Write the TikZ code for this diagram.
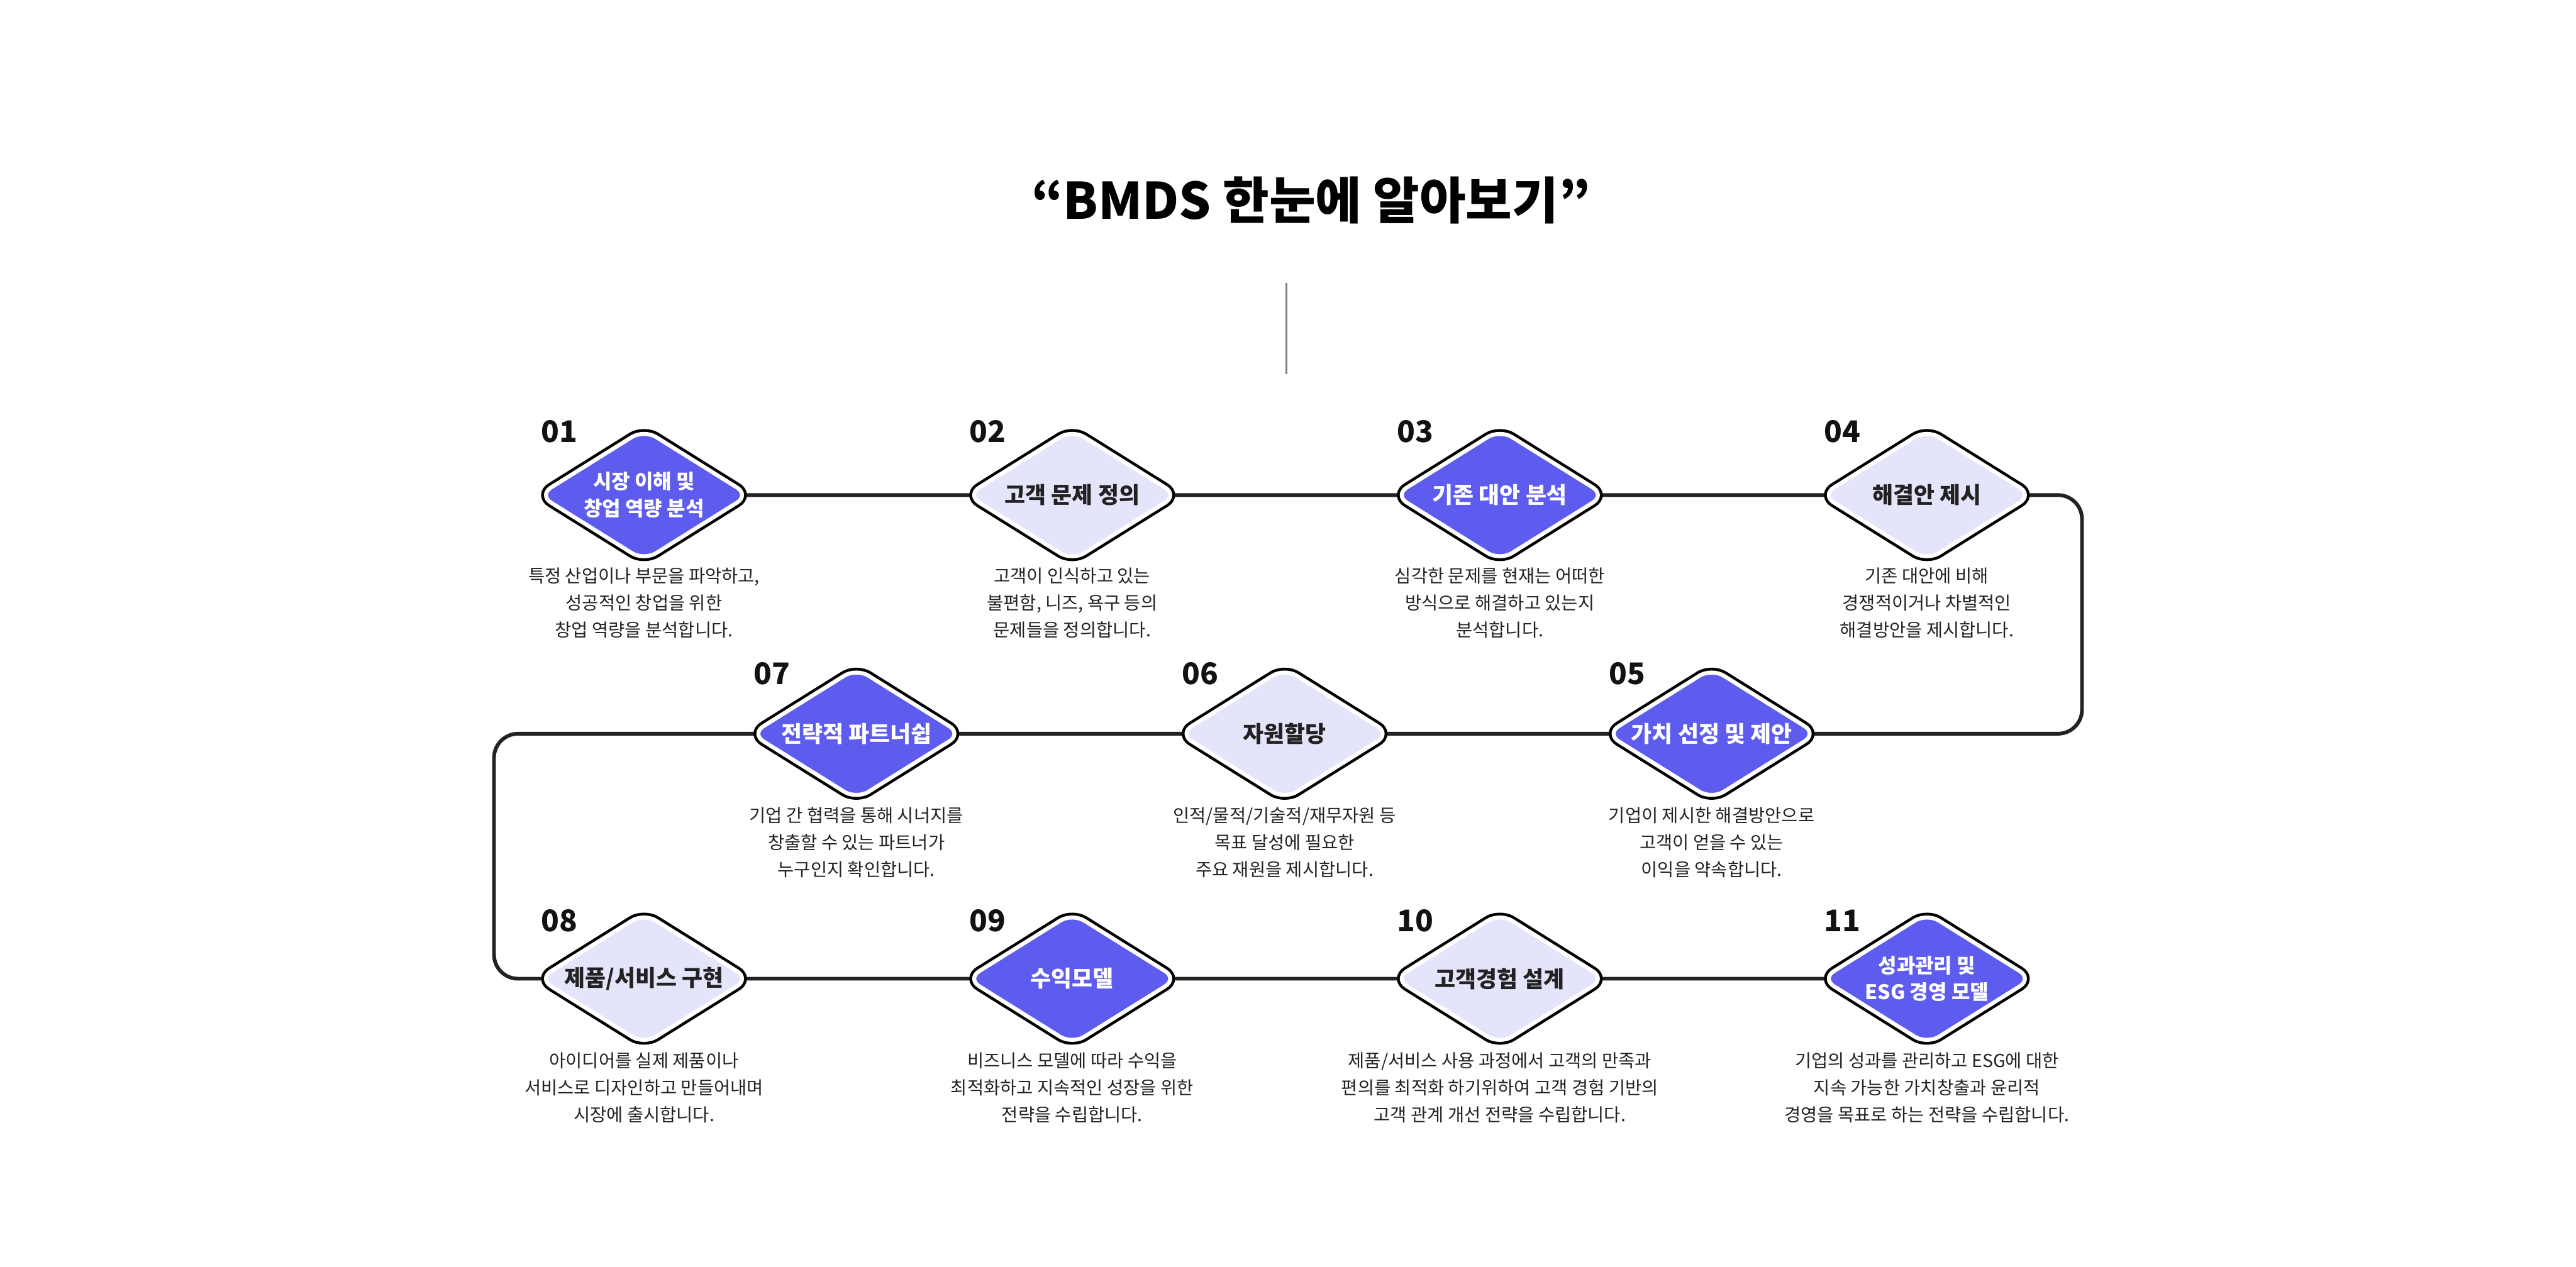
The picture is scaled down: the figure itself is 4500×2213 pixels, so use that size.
\documentclass[tikz,border=0pt]{standalone}
\usepackage{fontspec}
\setmainfont{Noto Sans CJK KR}
\usetikzlibrary{shapes.geometric,backgrounds}

\definecolor{bmdsblue}{RGB}{94,92,238}
\definecolor{bmdslight}{RGB}{228,228,250}
\definecolor{bmdsink}{RGB}{34,34,34}

\tikzset{
    flow diamond/.style={
      diamond,
      shape aspect=1.6,
      minimum width=3.7cm,
      minimum height=2.32cm,
      inner sep=0pt,
      rounded corners=0.25cm,
      draw=white,
      line width=0.07cm,
      preaction={draw=black, line width=0.17cm},
      align=center,
      font=\fontsize{11.2pt}{13.4pt}\selectfont\bfseries
    },
    flow dark/.style={
      flow diamond,
      fill=bmdsblue,
      text=white
    },
    flow light/.style={
      flow diamond,
      fill=bmdslight,
      text=bmdsink
    },
    flow small/.style={
      font=\fontsize{10pt}{13.4pt}\selectfont\bfseries
    },
    flow num/.style={
      anchor=base west,
      inner sep=0pt,
      text=black!93,
      font=\fontsize{14.8pt}{16pt}\selectfont\bfseries
    },
    flow desc/.style={
      anchor=north,
      inner sep=0pt,
      align=center,
      text=bmdsink,
      font=\fontsize{8.9pt}{13.4pt}\selectfont
    },
    flow line/.style={
      draw=bmdsink,
      line width=0.065cm,
      rounded corners=0.42cm
    },
    flow title/.style={
      font=\fontsize{25pt}{30pt}\selectfont\bfseries
    },
    flow rule/.style={
      draw=black!50,
      line width=0.03cm
    }
  }

\begin{document}
\begin{tikzpicture}[x=0.01cm, y=-0.01cm]
      \useasboundingbox (0,0) rectangle (4500,2213);

      % 제목
      \node[flow title] (title) at (2290,350) {“BMDS 한눈에 알아보기”};
      \coordinate (ruletop) at (2247,494);
      \coordinate (rulebot) at (2247,654);
      \draw[flow rule] (ruletop) -- (rulebot);

      % 단계
      \node[flow dark, flow small] (s1) at (1125,865) {시장 이해 및\\창업 역량 분석};
      \node[flow light] (s2) at (1873,865) {고객 문제 정의};
      \node[flow dark] (s3) at (2620,865) {기존 대안 분석};
      \node[flow light] (s4) at (3366,865) {해결안 제시};
      \node[flow dark] (s5) at (2990,1282) {가치 선정 및 제안};
      \node[flow light] (s6) at (2244,1282) {자원할당};
      \node[flow dark] (s7) at (1496,1282) {전략적 파트너쉽};
      \node[flow light] (s8) at (1125,1710) {제품/서비스 구현};
      \node[flow dark] (s9) at (1873,1710) {수익모델};
      \node[flow light] (s10) at (2620,1710) {고객경험 설계};
      \node[flow dark, flow small] (s11) at (3366,1710) {성과관리 및\\ESG 경영 모델};

      % 번호
      \node[flow num] (n1) at ([xshift=-1.8cm, yshift=0.92cm]s1.center) {01};
      \node[flow num] (n2) at ([xshift=-1.8cm, yshift=0.92cm]s2.center) {02};
      \node[flow num] (n3) at ([xshift=-1.8cm, yshift=0.92cm]s3.center) {03};
      \node[flow num] (n4) at ([xshift=-1.8cm, yshift=0.92cm]s4.center) {04};
      \node[flow num] (n5) at ([xshift=-1.8cm, yshift=0.86cm]s5.center) {05};
      \node[flow num] (n6) at ([xshift=-1.8cm, yshift=0.86cm]s6.center) {06};
      \node[flow num] (n7) at ([xshift=-1.8cm, yshift=0.86cm]s7.center) {07};
      \node[flow num] (n8) at ([xshift=-1.8cm, yshift=0.82cm]s8.center) {08};
      \node[flow num] (n9) at ([xshift=-1.8cm, yshift=0.82cm]s9.center) {09};
      \node[flow num] (n10) at ([xshift=-1.8cm, yshift=0.82cm]s10.center) {10};
      \node[flow num] (n11) at ([xshift=-1.8cm, yshift=0.82cm]s11.center) {11};

      % 설명
      \node[flow desc] (d1) at ([yshift=-1.26cm]s1.center) {특정 산업이나 부문을 파악하고,\\성공적인 창업을 위한\\창업 역량을 분석합니다.};
      \node[flow desc] (d2) at ([yshift=-1.26cm]s2.center) {고객이 인식하고 있는\\불편함, 니즈, 욕구 등의\\문제들을 정의합니다.};
      \node[flow desc] (d3) at ([yshift=-1.26cm]s3.center) {심각한 문제를 현재는 어떠한\\방식으로 해결하고 있는지\\분석합니다.};
      \node[flow desc] (d4) at ([yshift=-1.26cm]s4.center) {기존 대안에 비해\\경쟁적이거나 차별적인\\해결방안을 제시합니다.};
      \node[flow desc] (d5) at ([yshift=-1.28cm]s5.center) {기업이 제시한 해결방안으로\\고객이 얻을 수 있는\\이익을 약속합니다.};
      \node[flow desc] (d6) at ([yshift=-1.28cm]s6.center) {인적/물적/기술적/재무자원 등\\목표 달성에 필요한\\주요 재원을 제시합니다.};
      \node[flow desc] (d7) at ([yshift=-1.28cm]s7.center) {기업 간 협력을 통해 시너지를\\창출할 수 있는 파트너가\\누구인지 확인합니다.};
      \node[flow desc] (d8) at ([yshift=-1.28cm]s8.center) {아이디어를 실제 제품이나\\서비스로 디자인하고 만들어내며\\시장에 출시합니다.};
      \node[flow desc] (d9) at ([yshift=-1.28cm]s9.center) {비즈니스 모델에 따라 수익을\\최적화하고 지속적인 성장을 위한\\전략을 수립합니다.};
      \node[flow desc] (d10) at ([yshift=-1.28cm]s10.center) {제품/서비스 사용 과정에서 고객의 만족과\\편의를 최적화 하기위하여 고객 경험 기반의\\고객 관계 개선 전략을 수립합니다.};
      \node[flow desc] (d11) at ([yshift=-1.28cm]s11.center) {기업의 성과를 관리하고 ESG에 대한\\지속 가능한 가치창출과 윤리적\\경영을 목표로 하는 전략을 수립합니다.};

      % 연결선
      \begin{scope}[on background layer]
        \coordinate (turnR) at (3637,1074);
        \coordinate (turnL) at (863,1496);
        \draw[flow line] (s1.center) -- (s2.center) -- (s3.center) -- (s4.center)
          -| (turnR) |- (s5.center) -- (s6.center) -- (s7.center)
          -| (turnL) |- (s8.center) -- (s9.center) -- (s10.center) -- (s11.center);
      \end{scope}
    \end{tikzpicture}
\end{document}
